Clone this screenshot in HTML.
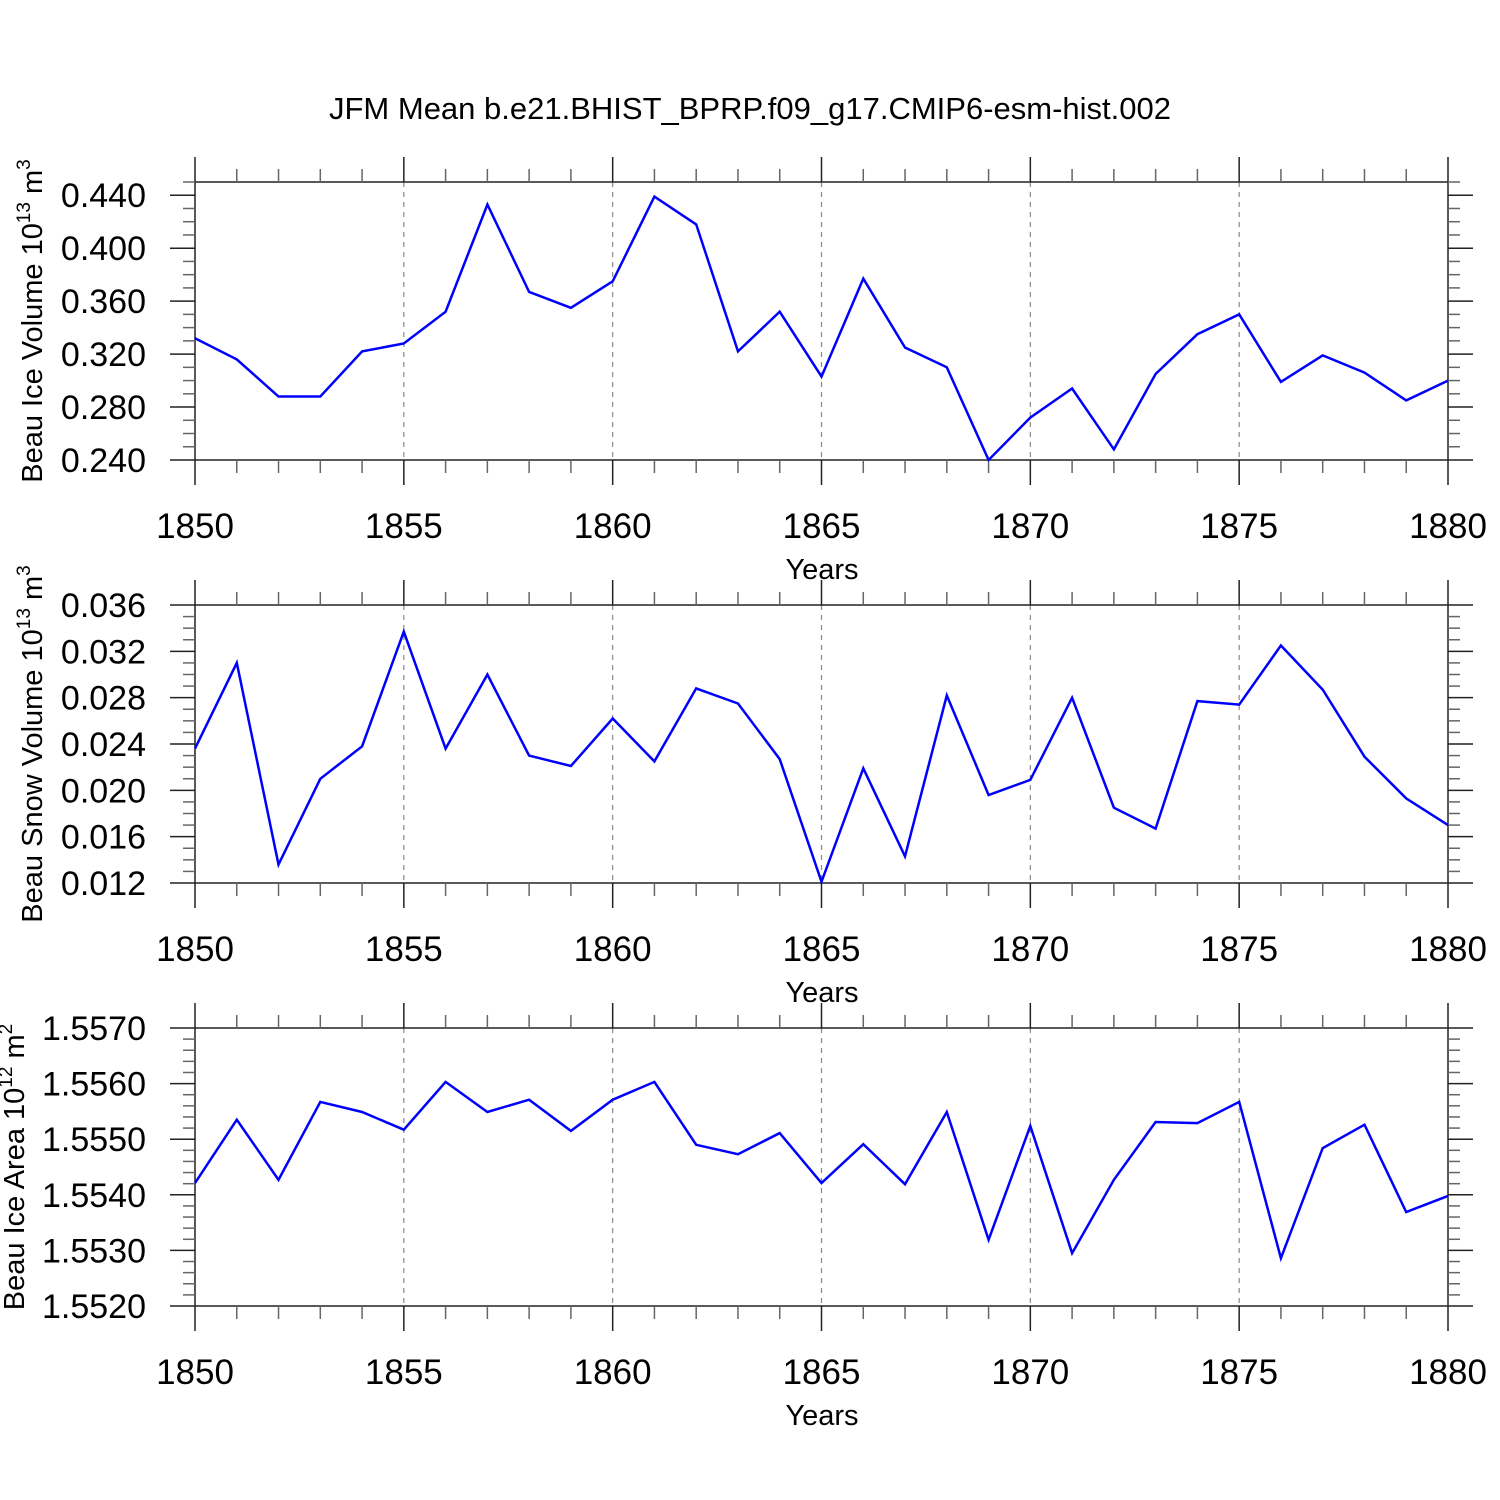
<!DOCTYPE html>
<html><head><meta charset="utf-8"><style>
html,body{margin:0;padding:0;background:#fff;}
svg{display:block;font-family:"Liberation Sans",Arial,sans-serif;}
</style></head><body>
<svg id="chart" width="1500" height="1500" viewBox="0 0 1500 1500" xmlns="http://www.w3.org/2000/svg">
<rect width="1500" height="1500" fill="#fff"/>
<text x="750" y="119" font-size="31" text-anchor="middle">JFM Mean b.e21.BHIST_BPRP.f09_g17.CMIP6-esm-hist.002</text>
</svg>
<script>
const years = [1850,1851,1852,1853,1854,1855,1856,1857,1858,1859,1860,1861,1862,1863,1864,1865,1866,1867,1868,1869,1870,1871,1872,1873,1874,1875,1876,1877,1878,1879,1880];
const iceVolume = [0.332,0.316,0.288,0.288,0.322,0.328,0.352,0.433,0.367,0.355,0.375,0.439,0.418,0.322,0.352,0.303,0.377,0.325,0.310,0.240,0.272,0.294,0.248,0.305,0.335,0.350,0.299,0.319,0.306,0.285,0.300];
const snowVolume = [0.0236,0.0310,0.0136,0.0210,0.0238,0.0337,0.0236,0.0300,0.0230,0.0221,0.0262,0.0225,0.0288,0.0275,0.0227,0.0121,0.0219,0.0143,0.0282,0.0196,0.0209,0.0280,0.0185,0.0167,0.0277,0.0274,0.0325,0.0287,0.0229,0.0193,0.0170];
const iceArea = [1.55421,1.55535,1.55427,1.55567,1.55549,1.55517,1.55603,1.55549,1.55571,1.55515,1.55571,1.55603,1.55490,1.55473,1.55511,1.55421,1.55491,1.55419,1.55549,1.55319,1.55524,1.55295,1.55427,1.55531,1.55529,1.55567,1.55286,1.55484,1.55526,1.55369,1.55398];
const xTickLabels = ["1850","1855","1860","1865","1870","1875","1880"];
const iceVolTicks = ["0.240","0.280","0.320","0.360","0.400","0.440"];
const snowVolTicks = ["0.012","0.016","0.020","0.024","0.028","0.032","0.036"];
const iceAreaTicks = ["1.5520","1.5530","1.5540","1.5550","1.5560","1.5570"];

const NS = "http://www.w3.org/2000/svg";
const svg = document.getElementById('chart');
function mk(tag, attrs, parent){
  const e = document.createElementNS(NS, tag);
  for (const k in attrs) e.setAttribute(k, attrs[k]);
  (parent||svg).appendChild(e);
  return e;
}
const X0 = 195, X1 = 1448, XMIN = 1850, XMAX = 1880;
function xs(v){ return X0 + (v - XMIN) / (XMAX - XMIN) * (X1 - X0); }

const panels = [
  {name:'ice-volume', top:182, ymin:0.24, ymax:0.45, minor:0.01, ticks:iceVolTicks, data:iceVolume, title:'Beau Ice Volume 10', sup1:'13', unit:' m', sup2:'3', tx:42},
  {name:'snow-volume', top:605, ymin:0.012, ymax:0.036, minor:0.001, ticks:snowVolTicks, data:snowVolume, title:'Beau Snow Volume 10', sup1:'13', unit:' m', sup2:'3', tx:42},
  {name:'ice-area', top:1028, ymin:1.552, ymax:1.557, minor:0.0002, ticks:iceAreaTicks, data:iceArea, title:'Beau Ice Area 10', sup1:'12', unit:' m', sup2:'2', tx:24}
];
const H = 278;
panels.forEach(p => {
  const g = mk('g', {});
  
  
  const bot = p.top + H;
  const ys = v => bot - (v - p.ymin) / (p.ymax - p.ymin) * H;
  for (let yr = 1855; yr <= 1875; yr += 5) {
    const l = mk('line', {x1:xs(yr), x2:xs(yr), y1:p.top, y2:bot, stroke:'#888', 'stroke-width':1.2, 'stroke-dasharray':'5,5'}, g);
    
    
  }
  const fr = mk('rect', {x:X0, y:p.top, width:X1-X0, height:H, fill:'none', stroke:'#222', 'stroke-width':1.5}, g);
  
  
  for (let yr = XMIN; yr <= XMAX; yr++) {
    const major = (yr % 5 === 0);
    const len = major ? 25 : 13;
    const c = major ? '#222' : '#666';
    mk('line', {x1:xs(yr), x2:xs(yr), y1:p.top, y2:p.top-len, stroke:c, 'stroke-width':1.5}, g);
    mk('line', {x1:xs(yr), x2:xs(yr), y1:bot, y2:bot+len, stroke:c, 'stroke-width':1.5}, g);
  }
  xTickLabels.forEach(t => {
    const tx = mk('text', {x:xs(+t), y:bot+78, 'font-size':35, 'text-anchor':'middle'}, g);
    tx.textContent = t;
    
    
  });
  const xt = mk('text', {x:822, y:bot+119, 'font-size':29, 'text-anchor':'middle'}, g);
  xt.textContent = 'Years';
  
  
  const n = Math.round((p.ymax - p.ymin) / p.minor);
  const majorStep = (+p.ticks[1] - +p.ticks[0]);
  for (let i = 0; i <= n; i++) {
    const v = p.ymin + i * p.minor;
    const r = (v - p.ymin) / majorStep;
    const major = Math.abs(r - Math.round(r)) < 1e-6;
    const len = major ? 25 : 12;
    const c = major ? '#222' : '#666';
    mk('line', {x1:X0, x2:X0-len, y1:ys(v), y2:ys(v), stroke:c, 'stroke-width':1.5}, g);
    mk('line', {x1:X1, x2:X1+len, y1:ys(v), y2:ys(v), stroke:c, 'stroke-width':1.5}, g);
  }
  p.ticks.forEach(t => {
    const tx = mk('text', {x:146, y:ys(+t)+12, 'font-size':34, 'text-anchor':'end'}, g);
    tx.textContent = t;
    
    
  });
  const cy = p.top + H/2;
  const yt = mk('text', {x:0, y:0, 'font-size':29, 'text-anchor':'middle', transform:`translate(${p.tx},${cy}) rotate(-90)`}, g);
  
  
  const a = mk('tspan', {}, yt); a.textContent = p.title;
  const b = mk('tspan', {dy:-12, 'font-size':19}, yt); b.textContent = p.sup1;
  const c2 = mk('tspan', {dy:12}, yt); c2.textContent = p.unit;
  const d = mk('tspan', {dy:-12, 'font-size':19}, yt); d.textContent = p.sup2;
  const pts = p.data.map((v,i) => xs(years[i]).toFixed(1) + ',' + ys(v).toFixed(1)).join(' ');
  const pl = mk('polyline', {points:pts, fill:'none', stroke:'#0000ff', 'stroke-width':2.5, 'stroke-linejoin':'miter'}, g);
  
  
});
</script>
</body></html>
